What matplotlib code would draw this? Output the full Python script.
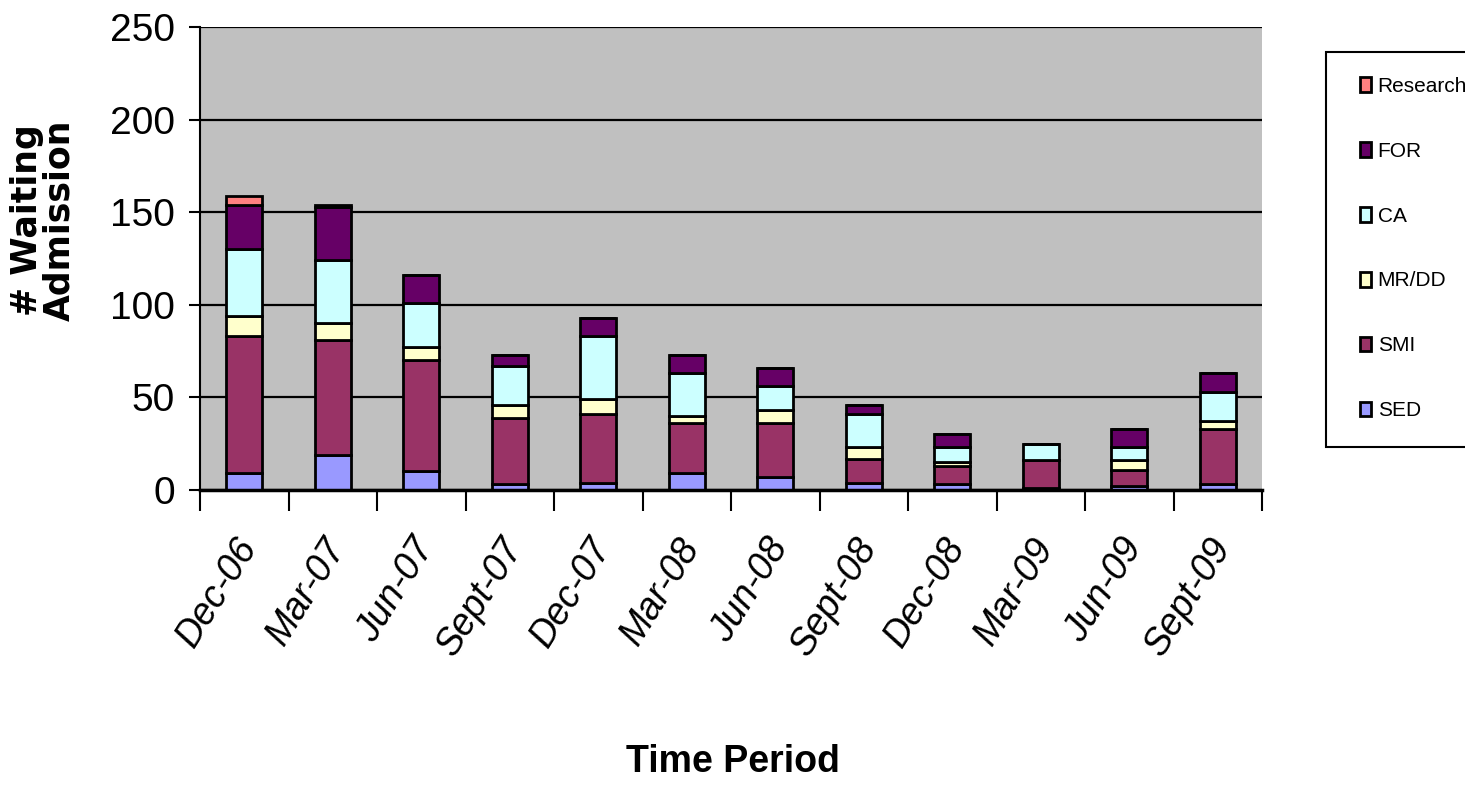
import matplotlib
matplotlib.use("Agg")
import matplotlib.pyplot as plt
import matplotlib.transforms as mtransforms
from matplotlib.patches import Rectangle
from matplotlib import font_manager
import numpy as np

periods = ["Dec-06", "Mar-07", "Jun-07", "Sept-07", "Dec-07", "Mar-08",
           "Jun-08", "Sept-08", "Dec-08", "Mar-09", "Jun-09", "Sept-09"]
sed      = [9, 19, 10, 3, 4, 9, 7, 4, 3, 1, 2, 3]
smi      = [74, 62, 60, 36, 37, 27, 29, 13, 10, 15, 9, 30]
mrdd     = [11, 9, 7, 7, 8, 4, 7, 6, 2, 0, 5, 4]
ca       = [36, 34, 24, 21, 34, 23, 13, 18, 8, 9, 7, 16]
forensic = [24, 29, 15, 6, 10, 10, 10, 5, 7, 0, 10, 10]
research = [5, 1, 0, 0, 0, 0, 0, 0, 0, 0, 0, 0]

series_names = ["SED", "SMI", "MR/DD", "CA", "FOR", "Research"]
series_vals = [sed, smi, mrdd, ca, forensic, research]
colors = ["#9999FF", "#993366", "#FFFFCC", "#CCFFFF", "#660066", "#FF8080"]

# pick a sans family that has a real italic face
italic_fams = {f.name for f in font_manager.fontManager.ttflist
               if f.style in ("italic", "oblique")}
ital_family = "DejaVu Sans"
for cand in ["Liberation Sans", "Roboto", "Open Sans", "Noto Sans", "Lato"]:
    if cand in italic_fams:
        ital_family = cand
        break

W, H = 1465, 786
fig = plt.figure(figsize=(W/100, H/100), dpi=100)
ax = fig.add_axes([200/W, 1-490/H, 1062/W, 463/H])
ax.set_facecolor("#C0C0C0")

x = np.arange(len(periods))
bottom = np.zeros(len(periods))
handles = []
for name, vals, c in zip(series_names, series_vals, colors):
    v = np.array(vals, dtype=float)
    b = ax.bar(x, v, width=0.41, bottom=bottom, color=c, edgecolor="black",
               linewidth=2, label=name, zorder=3)
    handles.append(b)
    bottom += v

ax.set_xlim(-0.5, len(periods) - 0.5)
ax.set_ylim(0, 250)
ax.set_yticks([0, 50, 100, 150, 200, 250])
ax.yaxis.grid(True, color="black", linewidth=1.6, zorder=1)
ax.set_axisbelow(True)
for s in ["top", "right"]:
    ax.spines[s].set_visible(False)
ax.spines["left"].set_linewidth(1.5)
ax.spines["bottom"].set_linewidth(2.5)
ax.spines["bottom"].set_zorder(4)

ax.tick_params(axis="y", length=8, width=1.5, direction="out", pad=10)
for lab in ax.get_yticklabels():
    lab.set_fontfamily("Liberation Sans")
    lab.set_fontsize(28)

ax.set_xticks(x)
ax.set_xticks(np.arange(-0.5, len(periods), 1.0), minor=True)
ax.tick_params(axis="x", which="major", length=0, pad=30)
ax.tick_params(axis="x", which="minor", length=15, width=1.5, direction="out")
ital_font = font_manager.FontProperties(family=ital_family, style="italic", size=27)
ax.set_xticklabels(periods, rotation=58, ha="right", va="top",
                   rotation_mode="anchor", fontproperties=ital_font)
offset = mtransforms.ScaledTranslation(-10/100, 0, fig.dpi_scale_trans)
for lab in ax.get_xticklabels():
    lab.set_transform(lab.get_transform() + offset)

fig.text(43/W, 1-220/H, "# Waiting\nAdmission", rotation=90,
         ha="center", va="center", fontsize=25, fontweight="bold",
         fontfamily="DejaVu Sans", linespacing=0.95)
fig.text(733/W, 1-762/H, "Time Period", ha="center", va="center",
         fontsize=27, fontweight="bold", fontfamily="Liberation Sans")

# legend frame
fig.patches.append(Rectangle((1326/W, 1-447/H), 150/W, 395/H,
                             transform=fig.transFigure, facecolor="white",
                             edgecolor="black", linewidth=1.5, zorder=0))
leg = fig.legend(handles[::-1], series_names[::-1],
                 loc="upper left",
                 bbox_to_anchor=(1360/W, 1-77/H),
                 frameon=False,
                 prop={"family": "Liberation Sans", "size": 15},
                 handlelength=0.55, handleheight=0.7, handletextpad=0.3,
                 labelspacing=2.2, borderpad=0, borderaxespad=0)

fig.savefig("out.png", dpi=100)
